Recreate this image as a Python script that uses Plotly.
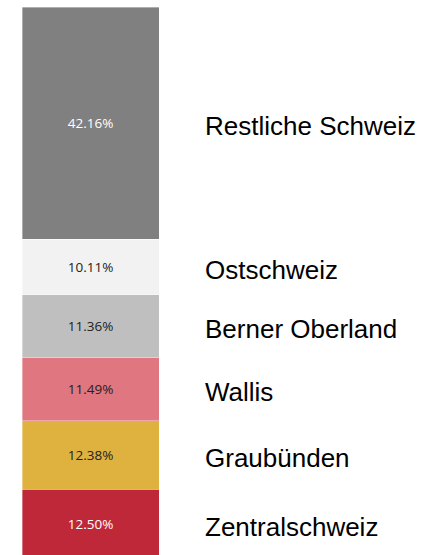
import plotly.graph_objects as go

# Data (bottom to top of the stacked bar)
regions = ["Zentralschweiz", "Graubünden", "Wallis", "Berner Oberland", "Ostschweiz", "Restliche Schweiz"]
shares = [12.50, 12.38, 11.49, 11.36, 10.11, 42.16]
colors = ["#be2838", "#dfb23f", "#e0767f", "#bfbfbf", "#f2f2f2", "#808080"]
text_colors = ["#ffffff", "#222222", "#222222", "#222222", "#222222", "#ffffff"]

W, H = 434, 555
fig = go.Figure()
for name, v, c, tc in zip(regions, shares, colors, text_colors):
    fig.add_trace(go.Bar(
        x=[0], y=[v], name=name,
        marker=dict(color=c, line=dict(color="rgba(255,255,255,0.6)", width=0.6)),
        text=[f"{v:.2f}%"], textposition="inside", insidetextanchor="middle",
        textfont=dict(family="Open Sans", size=13.5, color=tc),
        textangle=0, hoverinfo="skip",
    ))

# Right-hand labels at segment centres
cum = 0
for name, v in zip(regions, shares):
    mid = cum + v / 2
    cum += v
    fig.add_annotation(
        x=203 / W, xref="paper", y=mid, yref="y", yshift=-3,
        text=name, showarrow=False, xanchor="left", yanchor="middle",
        font=dict(family="Liberation Sans, Arial", size=26, color="#000000"),
    )

fig.update_layout(
    width=W, height=H,
    barmode="stack", bargap=0,
    showlegend=False,
    margin=dict(l=0, r=0, t=7, b=0),
    paper_bgcolor="white", plot_bgcolor="white",
    xaxis=dict(domain=[22 / W, 159 / W], range=[-0.5, 0.5], visible=False),
    yaxis=dict(range=[0.54, 100], visible=False),
    uniformtext=dict(mode=False),
)

fig.write_html(
    "out.html",
    config={"displayModeBar": False, "staticPlot": True},
    post_script="document.body.style.margin='0';document.body.style.overflow='hidden';",
)
